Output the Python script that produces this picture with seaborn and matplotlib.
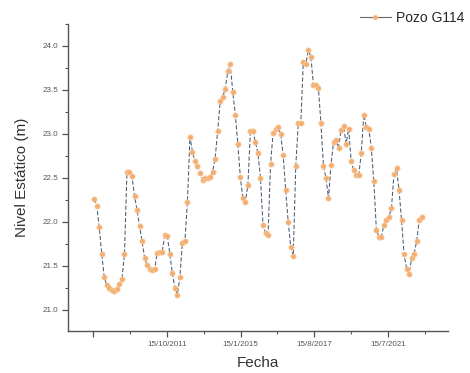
import numpy as np
import pandas as pd
import matplotlib
matplotlib.use("Agg")
import matplotlib.pyplot as plt
import seaborn as sns
from matplotlib.ticker import MultipleLocator, FixedLocator, FixedFormatter
from matplotlib.lines import Line2D

nivel = [
    22.26, 22.18, 21.94, 21.63, 21.37, 21.28, 21.25, 21.23, 21.21, 21.24,
    21.29, 21.35, 21.63, 22.57, 22.57, 22.52, 22.29, 22.14, 21.95, 21.78,
    21.59, 21.51, 21.47, 21.45, 21.46, 21.65, 21.66, 21.66, 21.85, 21.84,
    21.64, 21.42, 21.25, 21.17, 21.37, 21.76, 21.78, 22.23, 22.97, 22.80,
    22.69, 22.63, 22.56, 22.48, 22.50, 22.50, 22.51, 22.57, 22.72, 23.03,
    23.37, 23.42, 23.51, 23.71, 23.79, 23.48, 23.22, 22.89, 22.51, 22.27,
    22.23, 22.42, 23.03, 23.03, 22.91, 22.78, 22.50, 21.97, 21.87, 21.85,
    22.66, 23.01, 23.06, 23.08, 23.00, 22.76, 22.36, 22.00, 21.72, 21.61,
    22.63, 23.12, 23.12, 23.82, 23.80, 23.95, 23.88, 23.56, 23.56, 23.52,
    23.12, 22.63, 22.50, 22.27, 22.65, 22.91, 22.93, 22.84, 23.05, 23.09,
    22.89, 23.06, 22.69, 22.59, 22.53, 22.53, 22.78, 23.22, 23.08, 23.06,
    22.84, 22.46, 21.91, 21.83, 21.83, 21.97, 22.02, 22.06, 22.16, 22.55,
    22.61, 22.36, 22.02, 21.63, 21.47, 21.41, 21.59, 21.64, 21.78, 22.02,
    22.06,
]
tick_labels = ["", "15/10/2011", "15/1/2015", "15/8/2017", "15/7/2021"]
serie = "Pozo G114"

df = pd.DataFrame({"idx": np.arange(len(nivel)), "nivel": nivel})

sns.set_style("white")
plt.rcParams["font.family"] = ["Liberation Sans", "DejaVu Sans"]

fig = plt.figure(figsize=(4.7, 3.73), dpi=100)
ax = fig.add_axes([0.1447, 0.1126, 0.8083, 0.8231])

line_col = "#4a5a70"
mk_col = "#f4ad6e"
sns.lineplot(data=df, x="idx", y="nivel", ax=ax, color=line_col, lw=0.75,
             linestyle=(0, (4, 2)), marker="o", markersize=3.8,
             markerfacecolor=mk_col, markeredgecolor="#f8cfa6",
             markeredgewidth=0.5, legend=False)

ax.set_xlim(-10.4, 140.4)
ax.set_ylim(20.76, 24.25)

step = 29.3
majors = -0.5 + step * np.arange(len(tick_labels))
minors = majors + step / 2
ax.xaxis.set_major_locator(FixedLocator(majors))
ax.xaxis.set_major_formatter(FixedFormatter(tick_labels))
ax.xaxis.set_minor_locator(FixedLocator(minors))
ax.yaxis.set_major_locator(MultipleLocator(0.5))
ax.yaxis.set_minor_locator(MultipleLocator(0.25))
ax.yaxis.set_major_formatter(matplotlib.ticker.FormatStrFormatter("%.1f"))

axc = "#555555"
for s in ["top", "right"]:
    ax.spines[s].set_visible(False)
for s in ["left", "bottom"]:
    ax.spines[s].set_color(axc)
    ax.spines[s].set_linewidth(1.0)
ax.tick_params(which="major", direction="out", length=4, width=0.9,
               color=axc, labelsize=5.8, labelcolor="#555555",
               left=True, bottom=True, pad=3)
ax.tick_params(which="minor", direction="out", length=2.5, width=0.8,
               color=axc, left=True, bottom=True)

ax.set_xlabel("Fecha", fontsize=11, color="#333333", labelpad=6)
ax.set_ylabel("Nivel Estático (m)", fontsize=11, color="#333333", labelpad=10)

handle = Line2D([], [], color="#666666", lw=0.8, marker="o", markersize=3.5,
                markerfacecolor=mk_col, markeredgecolor="#f8cfa6",
                markeredgewidth=0.4)
fig.legend([handle], [serie], loc="center right",
           bbox_to_anchor=(1.015, 0.952), frameon=False, fontsize=10,
           handlelength=2.2, handletextpad=0.4)

fig.savefig("out.png", dpi=100, facecolor="white")
